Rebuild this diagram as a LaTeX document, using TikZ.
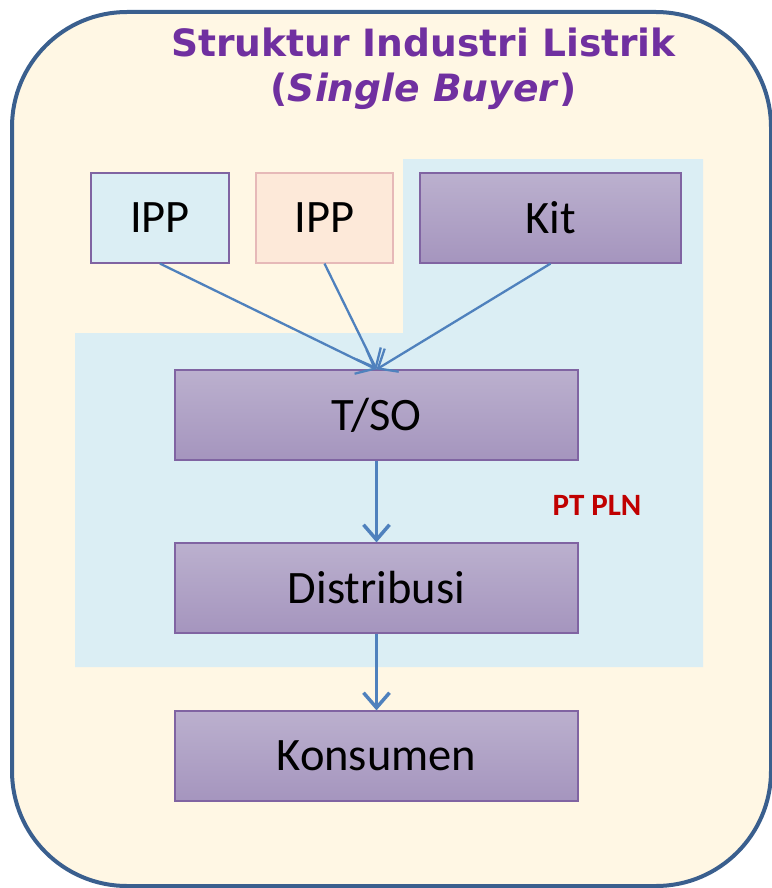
\documentclass[tikz,border=0pt]{standalone}
\usepackage{fontspec}
\setmainfont{Carlito}
\newfontfamily\titlefont{DejaVu Sans}
\usetikzlibrary{arrows.meta}
\definecolor{cream}{HTML}{FFF7E4}
\definecolor{outerblue}{HTML}{3A5F8E}
\definecolor{plnblue}{HTML}{DBEEF4}
\definecolor{peach}{HTML}{FDE9D9}
\definecolor{peachborder}{HTML}{E6B9B8}
\definecolor{boxborder}{HTML}{8064A2}
\definecolor{purpletop}{HTML}{BBB0CE}
\definecolor{purplebot}{HTML}{A595BE}
\definecolor{titlepurple}{HTML}{7030A0}
\definecolor{arrowblue}{HTML}{4F81BD}
\definecolor{plnred}{HTML}{C00000}
\tikzset{
  basebox/.style={rectangle, inner sep=0pt, line width=1.2pt, minimum height=90pt,
    text=black, font=\fontsize{46.5}{50}\selectfont},
  purplebox/.style={basebox, draw=boxborder, top color=purpletop, bottom color=purplebot},
  bluebox/.style={basebox, draw=boxborder, fill=plnblue},
  peachbox/.style={basebox, draw=peachborder, fill=peach},
  thinarrow/.style={draw=arrowblue, line width=2.3pt, -{Straight Barb[length=16pt,width=27pt]}},
  thickarrow/.style={draw=arrowblue, line width=3.5pt, -{Straight Barb[length=15pt,width=26pt]}},
  titletext/.style={text=titlepurple, inner sep=0pt, anchor=base, font=\titlefont\bfseries\fontsize{37.6}{40}\selectfont}
}
\begin{document}
\begin{tikzpicture}[x=1pt,y=-1pt]
\useasboundingbox (0,0) rectangle (771,888);
\draw[line width=4pt, draw=outerblue, fill=cream, rounded corners=115pt] (12,12) rectangle (771,886);
\fill[plnblue] (403,159) -- (703,159) -- (703,667) -- (75,667) -- (75,333) -- (403,333) -- cycle;

\node[titletext] (title1) at (423.5,57) {Struktur Industri Listrik};
\node[titletext] (title2) at (423.5,102) {(\textit{Single Buyer})};

\node[bluebox, minimum width=138pt] (ipp1) at (160,218) {IPP};
\node[peachbox, minimum width=137pt] (ipp2) at (324.5,218) {IPP};
\node[purplebox, minimum width=261pt] (kit) at (550.5,218) {Kit};
\node[purplebox, minimum width=403pt] (tso) at (376.5,415) {T/SO};
\node[purplebox, minimum width=403pt] (dist) at (376.5,588) {Distribusi};
\node[purplebox, minimum width=403pt] (kons) at (376.5,756) {Konsumen};

\node[text=plnred, inner sep=0pt, font=\bfseries\fontsize{31}{34}\selectfont] (pln) at (597,505) {PT PLN};

\draw[thinarrow] (ipp1.south) -- (tso.north);
\draw[thinarrow] (ipp2.south) -- (tso.north);
\draw[thinarrow] (kit.south) -- (tso.north);
\draw[thickarrow] (tso.south) -- (dist.north);
\draw[thickarrow] (dist.south) -- (kons.north);
\end{tikzpicture}
\end{document}
